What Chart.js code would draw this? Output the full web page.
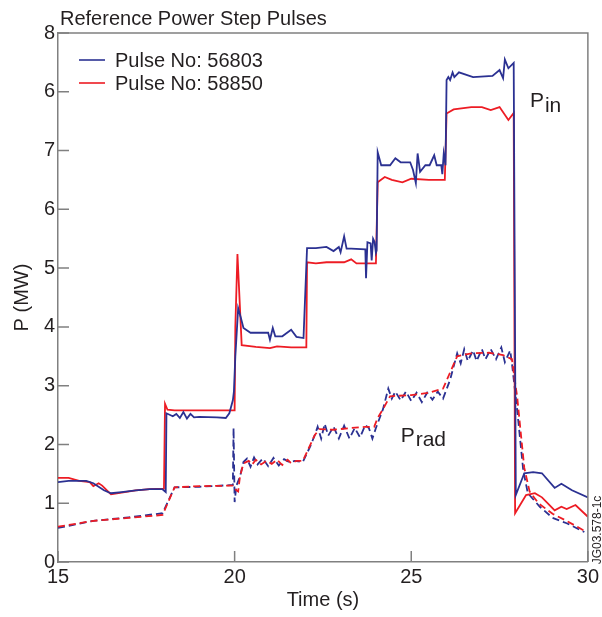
<!DOCTYPE html>
<html><head><meta charset="utf-8">
<script src="https://cdn.jsdelivr.net/npm/chart.js@4/dist/chart.umd.min.js"></script>
<style>html,body{margin:0;padding:0;background:#fff;}</style>
</head><body>
<canvas id="c" width="602" height="617"></canvas>
<script>
// ---- DATA ----
const pulseNames = ['Pulse No: 56803', 'Pulse No: 58850'];
const yTickLabels = ['0','1','2','3','4','5','6','7','6','8'];
const xTickValues = [15, 20, 25, 30];

// Pin, pulse 56803
const pinT56803 = [15.0,15.3,15.8,16.0,16.3,16.5,16.8,17.2,17.6,17.95,18.05,18.07,18.25,18.35,18.45,18.55,18.65,18.75,18.85,19.0,19.5,19.75,19.85,19.95,19.98,20.02,20.1,20.17,20.25,20.45,20.95,21.0,21.08,21.15,21.35,21.6,21.75,21.95,22.05,22.3,22.6,22.8,22.95,23.0,23.1,23.17,23.3,23.7,23.72,23.76,23.85,23.88,23.92,23.96,24.0,24.02,24.05,24.15,24.4,24.55,24.7,24.97,25.05,25.13,25.18,25.25,25.4,25.52,25.65,25.72,25.85,25.88,25.92,25.97,26.0,26.05,26.1,26.17,26.22,26.35,26.75,27.3,27.5,27.6,27.65,27.75,27.9,27.96,28.2,28.45,28.7,29.06,29.25,29.55,30.0];
const pinP56803 = [1.36,1.38,1.38,1.34,1.22,1.17,1.19,1.22,1.24,1.24,1.19,2.53,2.48,2.52,2.45,2.55,2.44,2.52,2.46,2.47,2.46,2.45,2.53,2.75,2.9,3.5,4.32,4.17,3.98,3.9,3.9,3.78,3.98,3.84,3.84,3.95,3.83,3.81,5.34,5.34,5.36,5.29,5.36,5.27,5.54,5.33,5.33,5.32,4.83,5.44,5.42,5.13,5.5,5.45,5.26,5.3,6.97,6.75,6.75,6.87,6.8,6.8,6.67,6.45,6.95,6.64,6.75,6.75,6.92,6.75,6.75,6.6,6.95,6.75,8.2,8.25,8.2,8.33,8.25,8.33,8.25,8.27,8.37,8.23,8.55,8.4,8.49,1.14,1.51,1.53,1.51,1.26,1.33,1.22,1.1];

// Pin, pulse 58850
const pinT58850 = [15.0,15.3,15.6,15.9,16.0,16.15,16.25,16.5,16.8,17.2,17.6,18.0,18.03,18.1,18.3,19.5,20.0,20.02,20.08,20.2,20.6,21.0,21.2,21.6,22.03,22.05,22.3,22.6,23.1,23.3,23.45,24.0,24.05,24.25,24.45,24.75,25.0,25.5,25.95,26.0,26.2,26.7,27.0,27.25,27.5,27.75,27.9,27.94,28.25,28.5,28.7,29.06,29.25,29.4,29.65,30.0];
const pinP58850 = [1.43,1.43,1.38,1.36,1.29,1.34,1.3,1.15,1.18,1.22,1.24,1.25,2.69,2.59,2.58,2.58,2.58,4.0,5.24,3.69,3.66,3.64,3.67,3.65,3.65,5.1,5.08,5.1,5.1,5.15,5.08,5.08,6.46,6.55,6.5,6.46,6.52,6.5,6.5,7.63,7.7,7.74,7.74,7.69,7.74,7.52,7.64,0.83,1.14,1.17,1.1,0.88,0.94,0.9,0.97,0.77];

// Prad, pulse 56803
const pradT56803 = [15.0,16.0,17.0,17.96,18.3,19.0,19.95,19.97,20.0,20.05,20.15,20.25,20.35,20.45,20.55,20.65,20.8,20.95,21.1,21.25,21.4,21.55,21.7,21.93,22.15,22.27,22.35,22.45,22.55,22.65,22.8,22.95,23.1,23.25,23.4,23.55,23.7,23.8,23.9,24.0,24.2,24.35,24.45,24.55,24.7,24.85,25.0,25.15,25.3,25.45,25.6,25.75,25.9,26.1,26.3,26.4,26.5,26.6,26.75,26.85,27.0,27.1,27.25,27.4,27.55,27.65,27.8,27.85,28.0,28.17,28.3,28.64,29.0,29.4,29.9];
const pradP56803 = [0.58,0.7,0.76,0.83,1.27,1.28,1.31,2.28,1.02,1.3,1.45,1.7,1.76,1.62,1.78,1.66,1.76,1.63,1.77,1.64,1.75,1.7,1.72,1.7,1.98,2.16,2.3,2.1,2.35,2.15,2.3,2.1,2.32,2.1,2.28,2.12,2.33,2.28,2.1,2.28,2.6,2.95,2.78,2.9,2.75,2.9,2.74,2.88,2.72,2.88,2.76,2.9,2.78,3.1,3.55,3.38,3.62,3.42,3.6,3.42,3.62,3.45,3.62,3.45,3.65,3.4,3.6,3.38,2.58,1.56,1.17,0.94,0.75,0.66,0.51];

// Prad, pulse 58850
const pradT58850 = [15.0,16.0,17.0,17.96,18.3,19.0,19.95,20.05,20.1,20.15,20.25,20.4,20.5,20.6,20.75,20.9,21.05,21.2,21.35,21.5,21.6,21.75,21.93,22.27,22.4,22.8,23.3,23.7,23.95,24.05,24.2,24.4,25.0,25.5,25.9,26.3,26.7,27.2,27.6,27.85,28.0,28.2,28.35,28.6,29.0,29.4,29.9];
const pradP58850 = [0.6,0.7,0.75,0.8,1.27,1.29,1.3,1.22,1.2,1.45,1.68,1.72,1.66,1.74,1.66,1.72,1.67,1.74,1.65,1.74,1.68,1.72,1.72,2.16,2.26,2.25,2.28,2.3,2.3,2.45,2.6,2.82,2.84,2.88,2.95,3.5,3.55,3.56,3.52,3.45,2.8,1.6,1.2,1.0,0.82,0.7,0.53];

// ---- STYLE ----
const BLUE = '#2b3192';
const RED = '#ed1c24';
const AXIS = '#808080';
const TEXT = '#231f20';
const FONT = '"Liberation Sans", Arial, Helvetica, sans-serif';

function pts(t, v) { return t.map((x, i) => ({ x: x, y: v[i] })); }

const overlay = {
  id: 'overlay',
  afterDraw(chart) {
    const ctx = chart.ctx;
    const a = chart.chartArea;
    const xs = chart.scales.x, ys = chart.scales.y;
    ctx.save();
    // frame top & right
    ctx.strokeStyle = AXIS; ctx.lineWidth = 1.5;
    ctx.beginPath();
    ctx.moveTo(a.left, a.top); ctx.lineTo(a.right, a.top); ctx.lineTo(a.right, a.bottom);
    ctx.stroke();
    // inward ticks
    ctx.beginPath();
    ys.ticks.forEach(t => { const y = ys.getPixelForValue(t.value); ctx.moveTo(a.left, y); ctx.lineTo(a.left + 11, y); });
    xs.ticks.forEach(t => { const x = xs.getPixelForValue(t.value); ctx.moveTo(x, a.bottom); ctx.lineTo(x, a.bottom - 11); });
    ctx.stroke();
    // title
    ctx.fillStyle = TEXT;
    ctx.font = '20px ' + FONT;
    ctx.textBaseline = 'alphabetic';
    ctx.textAlign = 'left';
    ctx.fillText('Reference Power Step Pulses', 60, 25);
    // legend
    const legendColors = [BLUE, RED];
    pulseNames.forEach((name, i) => {
      const y = 60 + i * 23;
      ctx.strokeStyle = legendColors[i]; ctx.lineWidth = 1.6;
      ctx.beginPath(); ctx.moveTo(79, y); ctx.lineTo(105, y); ctx.stroke();
      ctx.fillStyle = TEXT;
      ctx.textBaseline = 'middle';
      ctx.fillText(name, 115, y + 1);
    });
    // annotations
    ctx.textBaseline = 'alphabetic';
    ctx.font = '21px ' + FONT;
    function sub(main, s, t, v, drop) {
      const x = xs.getPixelForValue(t), y = ys.getPixelForValue(v);
      ctx.fillText(main, x, y);
      const w = ctx.measureText(main).width;
      ctx.fillText(s, x + w + 1, y + drop);
    }
    sub('P', 'in', 28.36, 7.74, 5);
    sub('P', 'rad', 24.7, 2.04, 4);
    // id label
    ctx.font = '12px ' + FONT;
    ctx.translate(598, 530);
    ctx.rotate(-Math.PI / 2);
    ctx.textAlign = 'center';
    ctx.textBaseline = 'middle';
    ctx.fillText('JG03.578-1c', 0, 0);
    ctx.restore();
  }
};

const lineBase = { pointRadius: 0, tension: 0, fill: false, borderWidth: 1.8 };

new Chart(document.getElementById('c'), {
  type: 'line',
  data: {
    datasets: [
      Object.assign({ label: 'Pin ' + pulseNames[0], data: pts(pinT56803, pinP56803), borderColor: BLUE }, lineBase),
      Object.assign({ label: 'Pin ' + pulseNames[1], data: pts(pinT58850, pinP58850), borderColor: RED }, lineBase),
      Object.assign({ label: 'Prad ' + pulseNames[1], data: pts(pradT58850, pradP58850), borderColor: RED, borderDash: [7, 4] }, lineBase),
      Object.assign({ label: 'Prad ' + pulseNames[0], data: pts(pradT56803, pradP56803), borderColor: BLUE, borderDash: [7, 4] }, lineBase)
    ]
  },
  options: {
    responsive: false,
    animation: false,
    devicePixelRatio: 1,
    layout: { padding: { top: 33, right: 14, left: 0, bottom: 0 } },
    plugins: { legend: { display: false }, title: { display: false }, tooltip: { enabled: false } },
    scales: {
      x: {
        type: 'linear', min: 15, max: 30,
        afterBuildTicks: s => { s.ticks = xTickValues.map(v => ({ value: v })); },
        afterFit: s => { s.height = 55; },
        ticks: { font: { size: 20, family: FONT }, color: TEXT, padding: 3, maxRotation: 0, autoSkip: false },
        grid: { display: true, drawOnChartArea: false, drawTicks: false },
        border: { display: true, color: AXIS, width: 1.5 },
        title: { display: true, text: 'Time (s)', font: { size: 20, family: FONT }, color: TEXT, padding: { top: 0, bottom: 5 } }
      },
      y: {
        type: 'linear', min: 0, max: 9,
        afterBuildTicks: s => { s.ticks = yTickLabels.map((l, i) => ({ value: i })); },
        afterFit: s => { s.width = 58; },
        ticks: { font: { size: 20, family: FONT }, color: TEXT, padding: 3, autoSkip: false,
                 callback: (v) => yTickLabels[v] },
        grid: { display: true, drawOnChartArea: false, drawTicks: false },
        border: { display: true, color: AXIS, width: 1.5 },
        title: { display: true, text: 'P (MW)', font: { size: 20, family: FONT }, color: TEXT, padding: { top: 10, bottom: 0 } }
      }
    }
  },
  plugins: [overlay]
});
</script>
</body></html>
